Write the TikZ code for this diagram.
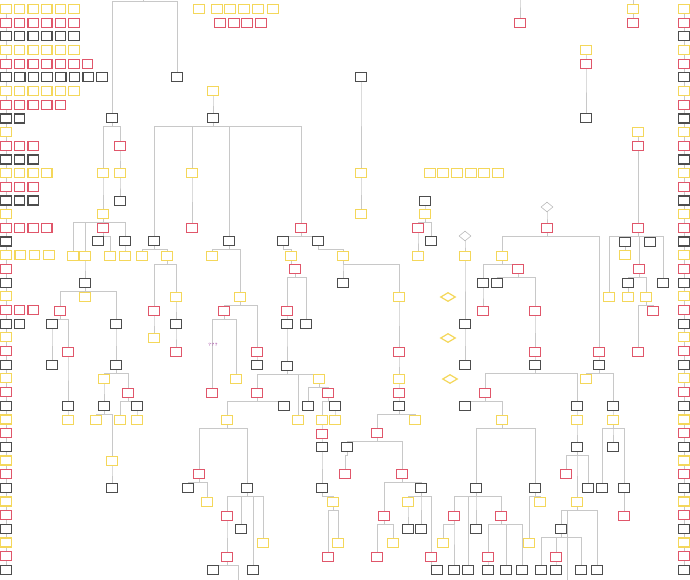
\documentclass[tikz,border=0pt]{standalone}
\usetikzlibrary{shapes.geometric,backgrounds}

\definecolor{cardyellow}{HTML}{F4D75A}
\definecolor{cardred}{HTML}{E0566A}
\definecolor{cardgray}{HTML}{4D4D4D}
\definecolor{linkgray}{HTML}{C8C8C8}

\tikzset{
  card/.style={rectangle, draw, fill=white, line width=1.2pt,
    minimum width=10.5pt, minimum height=9pt, inner sep=0pt},
  yc/.style={card, draw=cardyellow},
  rc/.style={card, draw=cardred},
  kc/.style={card, draw=cardgray},
  c0/.style={yc}, c1/.style={rc}, c2/.style={kc},
  gate/.style={diamond, draw=gray!60, fill=white, line width=0.5pt,
    minimum width=12pt, minimum height=10pt, inner sep=0pt},
  ygate/.style={diamond, draw=cardyellow, fill=white, line width=1.2pt,
    minimum width=15pt, minimum height=9pt, inner sep=0pt},
  stub/.style={inner sep=0pt, minimum size=0pt},
  tree/.style={to path={(\tikztostart.south) -- ++(0,-3.5pt) -| (\tikztotarget.north)}}
}

\begin{document}
\begin{tikzpicture}[x=1pt, y=-1pt]

  \useasboundingbox (0,0) rectangle (690,580);

  % side columns
  \foreach \k in {0,...,41} {
    \pgfmathtruncatemacro\m{mod(\k,3)}
    \node[c\m] (L\k) at (6,{9+13.68*\k}) {};
    \node[c\m] (R\k) at (684,{9+13.68*\k}) {};
  }
  \foreach \k/\n/\dx in {0/5/13.6, 1/5/13.6, 2/5/13.6, 3/5/13.6, 4/6/13.6,
      5/7/13.7, 6/5/13.6, 7/4/13.6, 8/1/13.6, 10/2/13.6, 11/2/13.6,
      12/3/13.6, 13/2/13.6, 14/2/13.6, 16/3/13.6, 18/3/14.3, 22/2/13.6,
      23/1/13.6} {
    \pgfmathtruncatemacro\m{mod(\k,3)}
    \foreach \j in {1,...,\n}
      \node[c\m] (L\k-\j) at ({6+\dx*\j},{9+13.68*\k}) {};
  }

  % loose cards
  \foreach \x in {199,217,230,244,258,273} \node[yc] (ta\x) at (\x,9) {};
  \foreach \x in {220,234,247,261} \node[rc] (tb\x) at (\x,23) {};
  \foreach \x in {430,443,457,471,484,498} \node[yc] (mc\x) at (\x,173) {};
  \node[ygate] (d1) at (448,297) {};
  \node[ygate] (d2) at (448,338) {};
  \node[ygate] (d3) at (450,379) {};
  \node[text=violet!75, font=\fontsize{4.5}{5}\selectfont\bfseries] (q) at (213,345) {???};

  % tree cards
  \begin{scope}
    \node[stub] (s0) at (143,-2) {};
    \node[kc] (1)  at (112,118) {};
    \node[kc] (2)  at (177,77)  {};
    \node[yc] (3)  at (103,173) {};
    \node[rc] (4)  at (120,146) {};
    \node[yc] (5)  at (120,173) {};
    \node[kc] (6)  at (120,201) {};
    \node[yc] (7)  at (103,214) {};
    \node[yc] (8)  at (73,256)  {};
    \node[yc] (9)  at (85,256)  {};
    \node[rc] (10) at (103,228) {};
    \node[kc] (11) at (125,241) {};
    \node[kc] (12) at (85,283)  {};
    \node[kc] (13) at (98,241)  {};
    \node[yc] (14) at (110,256) {};
    \node[yc] (15) at (125,256) {};
    \node[yc] (16) at (85,297)  {};
    \node[rc] (17) at (60,311)  {};
    \node[kc] (18) at (116,324) {};
    \node[kc] (19) at (52,324)  {};
    \node[rc] (20) at (68,352)  {};
    \node[kc] (21) at (52,365)  {};
    \node[kc] (22) at (68,406)  {};
    \node[yc] (23) at (68,420)  {};
    \node[kc] (24) at (116,365) {};
    \node[yc] (25) at (104,379) {};
    \node[rc] (26) at (128,393) {};
    \node[kc] (27) at (104,406) {};
    \node[yc] (28) at (96,420)  {};
    \node[yc] (29) at (112,461) {};
    \node[kc] (30) at (112,488) {};
    \node[yc] (31) at (120,420) {};
    \node[kc] (32) at (137,406) {};
    \node[yc] (33) at (137,420) {};

    \node[yc] (40) at (213,91)  {};
    \node[kc] (41) at (213,118) {};
    \node[kc] (42) at (154,241) {};
    \node[yc] (43) at (192,173) {};
    \node[kc] (44) at (229,241) {};
    \node[rc] (45) at (301,228) {};
    \node[rc] (46) at (192,228) {};
    \node[yc] (47) at (142,256) {};
    \node[yc] (48) at (167,256) {};
    \node[rc] (49) at (154,311) {};
    \node[yc] (50) at (176,297) {};
    \node[yc] (51) at (154,338) {};
    \node[kc] (52) at (176,324) {};
    \node[rc] (53) at (176,352) {};
    \node[yc] (54) at (212,256) {};
    \node[yc] (55) at (240,297) {};
    \node[rc] (56) at (224,311) {};
    \node[rc] (57) at (257,352) {};
    \node[kc] (58) at (257,365) {};
    \node[rc] (59) at (212,393) {};
    \node[yc] (60) at (236,379) {};
    \node[kc] (61) at (283,241) {};
    \node[kc] (62) at (318,241) {};
    \node[yc] (63) at (291,256) {};
    \node[rc] (64) at (295,269) {};
    \node[rc] (65) at (287,311) {};
    \node[kc] (66) at (306,324) {};
    \node[kc] (67) at (287,324) {};
    \node[kc] (68) at (287,366) {};
    \node[rc] (69) at (257,393) {};
    \node[yc] (70) at (298,420) {};
    \node[yc] (71) at (319,379) {};
    \node[yc] (72) at (227,420) {};
    \node[kc] (73) at (284,406) {};
    \node[rc] (74) at (199,474) {};
    \node[kc] (75) at (247,488) {};
    \node[kc] (76) at (188,488) {};
    \node[yc] (77) at (207,502) {};
    \node[rc] (78) at (227,516) {};
    \node[kc] (79) at (241,529) {};
    \node[kc] (80) at (253,570) {};
    \node[yc] (81) at (263,543) {};
    \node[rc] (82) at (227,557) {};
    \node[kc] (83) at (213,570) {};
    \node[stub] (s1) at (238,590) {};
    \node[kc] (84) at (308,406) {};
    \node[rc] (85) at (328,393) {};
    \node[yc] (86) at (322,420) {};
    \node[kc] (87) at (335,406) {};
    \node[rc] (88) at (322,434) {};
    \node[kc] (89) at (322,447) {};
    \node[kc] (90) at (322,488) {};
    \node[yc] (91) at (333,502) {};
    \node[rc] (92) at (328,557) {};
    \node[yc] (93) at (338,543) {};
    \node[yc] (94) at (335,420) {};
    \node[yc] (95) at (343,256) {};
    \node[kc] (96) at (343,283) {};
    \node[yc] (97) at (399,297) {};
    \node[rc] (98) at (399,352) {};
    \node[yc] (99) at (399,379) {};
    \node[rc] (100) at (399,393) {};
    \node[kc] (101) at (399,406) {};
    \node[rc] (102) at (377,433) {};
    \node[yc] (103) at (415,420) {};
    \node[kc] (104) at (347,447) {};
    \node[rc] (105) at (402,474) {};
    \node[rc] (106) at (345,474) {};
    \node[rc] (107) at (384,516) {};
    \node[kc] (108) at (421,488) {};
    \node[rc] (109) at (377,557) {};
    \node[yc] (110) at (393,543) {};
    \node[yc] (111) at (408,502) {};
    \node[kc] (112) at (421,529) {};
    \node[rc] (113) at (431,557) {};
    \node[kc] (114) at (408,529) {};
    \node[kc] (115) at (437,570) {};

    \node[stub] (s2) at (520,-6) {};
    \node[rc] (120) at (520,23) {};
    \node[stub] (s3) at (633,-6) {};
    \node[yc] (121) at (633,9)  {};
    \node[rc] (122) at (633,23) {};
    \node[yc] (123) at (586,50) {};
    \node[rc] (124) at (586,64) {};
    \node[kc] (125) at (586,118) {};
    \node[kc] (126) at (361,77) {};
    \node[yc] (127) at (361,173) {};
    \node[yc] (128) at (361,214) {};
    \node[kc] (130) at (425,201) {};
    \node[yc] (131) at (425,214) {};
    \node[rc] (132) at (418,228) {};
    \node[kc] (133) at (431,241) {};
    \node[yc] (134) at (418,256) {};
    \node[gate] (135) at (465,236) {};
    \node[yc] (136) at (465,256) {};
    \node[kc] (137) at (465,324) {};
    \node[kc] (138) at (465,365) {};
    \node[gate] (140) at (547,207) {};
    \node[rc] (141) at (547,228) {};
    \node[yc] (142) at (502,256) {};
    \node[kc] (143) at (483,283) {};
    \node[rc] (144) at (518,269) {};
    \node[rc] (145) at (483,311) {};
    \node[kc] (146) at (497,283) {};
    \node[rc] (147) at (535,311) {};
    \node[rc] (148) at (535,352) {};
    \node[kc] (149) at (535,365) {};
    \node[rc] (150) at (485,393) {};
    \node[kc] (151) at (577,406) {};
    \node[kc] (152) at (465,406) {};
    \node[yc] (153) at (502,420) {};
    \node[kc] (154) at (476,488) {};
    \node[kc] (155) at (535,488) {};
    \node[rc] (156) at (454,516) {};
    \node[kc] (157) at (476,529) {};
    \node[rc] (158) at (501,516) {};
    \node[kc] (159) at (454,570) {};
    \node[yc] (160) at (443,543) {};
    \node[kc] (161) at (468,570) {};
    \node[rc] (162) at (488,557) {};
    \node[kc] (163) at (506,570) {};
    \node[kc] (164) at (522,570) {};
    \node[kc] (165) at (488,570) {};
    \node[yc] (166) at (540,502) {};
    \node[yc] (167) at (529,543) {};
    \node[yc] (168) at (577,420) {};
    \node[kc] (169) at (577,447) {};
    \node[rc] (170) at (566,474) {};
    \node[yc] (171) at (577,502) {};
    \node[kc] (172) at (588,488) {};
    \node[kc] (173) at (561,529) {};
    \node[kc] (174) at (597,570) {};
    \node[stub] (s4) at (567,590) {};
    \node[kc] (175) at (541,570) {};
    \node[rc] (176) at (556,557) {};
    \node[kc] (177) at (581,570) {};
    \node[kc] (178) at (556,570) {};
    \node[rc] (180) at (599,352) {};
    \node[kc] (181) at (599,365) {};
    \node[yc] (182) at (586,379) {};
    \node[kc] (183) at (613,406) {};
    \node[yc] (184) at (613,420) {};
    \node[kc] (185) at (602,488) {};
    \node[kc] (186) at (613,447) {};
    \node[kc] (187) at (624,488) {};
    \node[rc] (188) at (624,516) {};

    \node[yc] (190) at (638,132) {};
    \node[rc] (191) at (638,146) {};
    \node[rc] (192) at (638,228) {};
    \node[yc] (193) at (609,297) {};
    \node[kc] (194) at (625,242) {};
    \node[rc] (195) at (639,269) {};
    \node[kc] (196) at (650,242) {};
    \node[kc] (197) at (663,283) {};
    \node[yc] (198) at (625,255) {};
    \node[kc] (199) at (628,283) {};
    \node[yc] (200) at (646,297) {};
    \node[yc] (201) at (628,297) {};
    \node[rc] (202) at (638,352) {};
    \node[rc] (203) at (653,311) {};
  \end{scope}

  % connectors
  \begin{scope}[on background layer, every edge/.style={draw=linkgray, line width=0.8pt}]
    \foreach \k [count=\j from 1] in {0,...,40}
      \path (L\k) edge (L\j) (R\k) edge (R\j);

    \path (s0) edge[tree] (1) edge[tree] (2);
    \path (1)  edge[tree] (3) edge[tree] (4);
    \path (4)  edge[tree] (5);
    \path (5)  edge[tree] (6);
    \path (3)  edge[tree] (7);
    \path (7)  edge[tree] (8) edge[tree] (9) edge[tree] (10) edge[tree] (11);
    \path (9)  edge[tree] (12);
    \path (10) edge[tree] (13) edge[tree] (14);
    \path (11) edge[tree] (15);
    \path (12) edge[tree] (16) edge[tree] (17) edge[tree] (18);
    \path (17) edge[tree] (19) edge[tree] (20);
    \path (19) edge[tree] (21);
    \path (20) edge[tree] (22);
    \path (22) edge[tree] (23);
    \path (18) edge[tree] (24);
    \path (24) edge[tree] (25) edge[tree] (26);
    \path (25) edge[tree] (27);
    \path (27) edge[tree] (28) edge[tree] (29);
    \path (29) edge[tree] (30);
    \path (26) edge[tree] (31) edge[tree] (32);
    \path (32) edge[tree] (33);

    \path (40) edge[tree] (41);
    \path (41) edge[tree] (42) edge[tree] (43) edge[tree] (44) edge[tree] (45);
    \path (43) edge[tree] (46);
    \path (42) edge[tree] (47) edge[tree] (48);
    \path (48) edge[tree] (49) edge[tree] (50);
    \path (49) edge[tree] (51);
    \path (50) edge[tree] (52);
    \path (52) edge[tree] (53);
    \path (44) edge[tree] (54) edge[tree] (55);
    \path (55) edge[tree] (56) edge[tree] (57);
    \path (57) edge[tree] (58);
    \path (56) edge[tree] (59) edge[tree] (60);
    \path (45) edge[tree] (61) edge[tree] (62);
    \path (61) edge[tree] (63);
    \path (63) edge[tree] (64);
    \path (64) edge[tree] (65) edge[tree] (66);
    \path (65) edge[tree] (67);
    \path (67) edge[tree] (68);
    \path (68) edge[tree] (69) edge[tree] (70) edge[tree] (71);
    \path (69) edge[tree] (72) edge[tree] (73);
    \path (72) edge[tree] (74) edge[tree] (75);
    \path (74) edge[tree] (76) edge[tree] (77);
    \path (75) edge[tree] (78) edge[tree] (79) edge[tree] (80) edge[tree] (81);
    \path (78) edge[tree] (82);
    \path (82) edge[tree] (83) edge[tree] (s1);
    \path (71) edge[tree] (84) edge[tree] (85);
    \path (85) edge[tree] (86) edge[tree] (87);
    \path (86) edge[tree] (88);
    \path (88) edge[tree] (89);
    \path (89) edge[tree] (90);
    \path (90) edge[tree] (91);
    \path (91) edge[tree] (92) edge[tree] (93);
    \path (87) edge[tree] (94);
    \path (62) edge[tree] (95);
    \path (95) edge[tree] (96) edge[tree] (97);
    \path (97) edge[tree] (98);
    \path (98) edge[tree] (99);
    \path (99) edge[tree] (100);
    \path (100) edge[tree] (101);
    \path (101) edge[tree] (102) edge[tree] (103);
    \path (102) edge[tree] (104) edge[tree] (105);
    \path (104) edge[tree] (106);
    \path (105) edge[tree] (107) edge[tree] (108);
    \path (107) edge[tree] (109) edge[tree] (110);
    \path (108) edge[tree] (111) edge[tree] (112) edge[tree] (113);
    \path (111) edge[tree] (114);
    \path (113) edge[tree] (115);

    \path (s2) edge[tree] (120);
    \path (s3) edge[tree] (121);
    \path (121) edge[tree] (122);
    \path (123) edge[tree] (124);
    \path (124) edge[tree] (125);
    \path (126) edge[tree] (127);
    \path (127) edge[tree] (128);
    \path (130) edge[tree] (131);
    \path (131) edge[tree] (132) edge[tree] (133);
    \path (132) edge[tree] (134);
    \path (135) edge[tree] (136);
    \path (136) edge[tree] (137);
    \path (137) edge[tree] (138);
    \path (140) edge[tree] (141);
    \path (141) edge[tree] (142) edge[tree] (180);
    \path (142) edge[tree] (143) edge[tree] (144);
    \path (143) edge[tree] (145);
    \path (144) edge[tree] (146) edge[tree] (147);
    \path (147) edge[tree] (148);
    \path (148) edge[tree] (149);
    \path (149) edge[tree] (150) edge[tree] (151);
    \path (150) edge[tree] (152) edge[tree] (153);
    \path (153) edge[tree] (154) edge[tree] (155);
    \path (154) edge[tree] (156) edge[tree] (157) edge[tree] (158) edge[tree] (161);
    \path (156) edge[tree] (159) edge[tree] (160);
    \path (158) edge[tree] (162) edge[tree] (163) edge[tree] (164);
    \path (162) edge[tree] (165);
    \path (155) edge[tree] (166) edge[tree] (167);
    \path (151) edge[tree] (168);
    \path (168) edge[tree] (169);
    \path (169) edge[tree] (170) edge[tree] (171) edge[tree] (172);
    \path (171) edge[tree] (173) edge[tree] (174) edge[tree] (s4);
    \path (173) edge[tree] (175) edge[tree] (176) edge[tree] (177);
    \path (176) edge[tree] (178);
    \path (180) edge[tree] (181);
    \path (181) edge[tree] (182) edge[tree] (183);
    \path (183) edge[tree] (184);
    \path (184) edge[tree] (185) edge[tree] (186) edge[tree] (187);
    \path (187) edge[tree] (188);

    \path (190) edge[tree] (191);
    \path (191) edge[tree] (192);
    \path (192) edge[tree] (193) edge[tree] (194) edge[tree] (195) edge[tree] (196) edge[tree] (197);
    \path (194) edge[tree] (198);
    \path (195) edge[tree] (199) edge[tree] (200);
    \path (199) edge[tree] (201);
    \path (200) edge[tree] (202) edge[tree] (203);
  \end{scope}

\end{tikzpicture}
\end{document}
